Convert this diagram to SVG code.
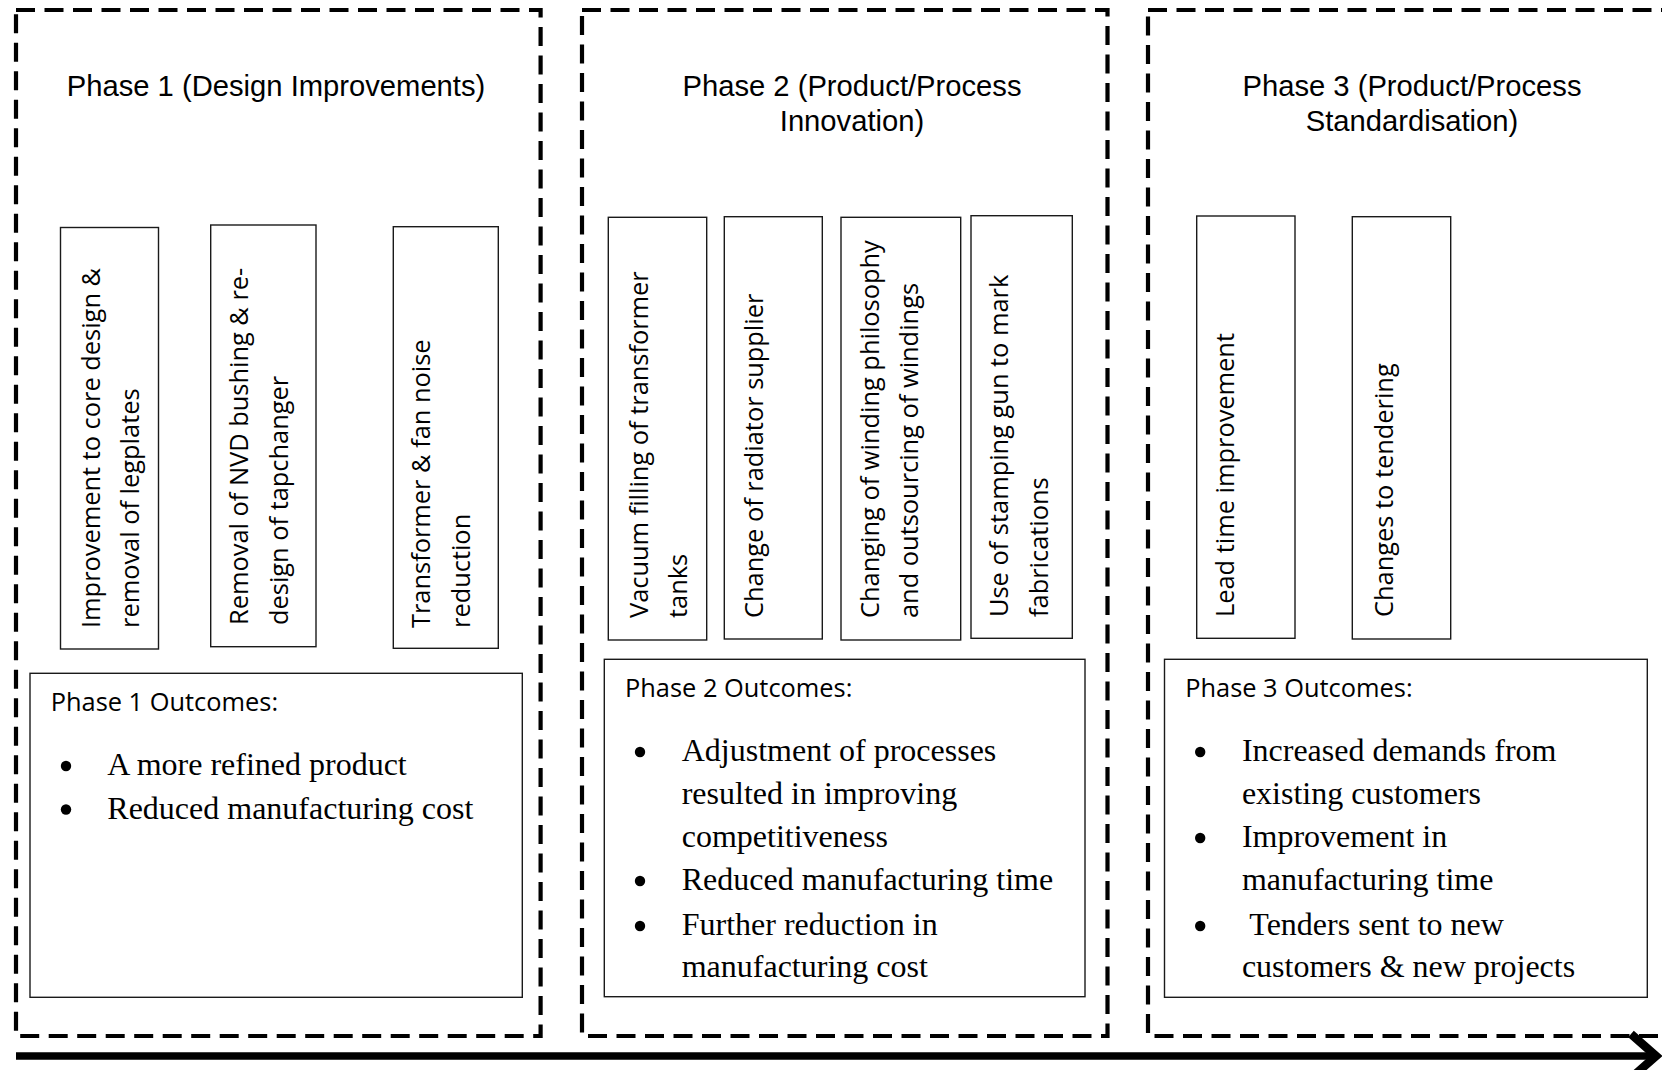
<svg xmlns="http://www.w3.org/2000/svg" width="1662" height="1070" viewBox="0 0 1662 1070">
  <style>
    .frame { fill: none; stroke: #000; stroke-width: 4.2; stroke-dasharray: 19 9.5; }
    .box { fill: #fff; stroke: #1a1a1a; stroke-width: 1.4; }
    .title { font-family: "Liberation Sans", Arial, sans-serif; font-size: 29.2px; fill: #000; text-anchor: middle; }
    .vt { font-family: "Open Sans", "Noto Sans", sans-serif; font-size: 25.4px; fill: #000; }
    .oh { font-family: "Open Sans", "Noto Sans", sans-serif; font-size: 25.4px; fill: #000; }
    .ot { font-family: "Liberation Serif", "Times New Roman", serif; font-size: 32px; fill: #000; }
    .dot { fill: #000; }
    .timeline { fill: none; stroke: #000; stroke-width: 7.5; }
  </style>
  <defs>
    <marker id="openHead" markerUnits="userSpaceOnUse" viewBox="0 0 44 56" markerWidth="44" markerHeight="56" refX="31" refY="28" orient="auto" overflow="visible">
      <path d="M6,6 L31,28 L6,50" fill="none" stroke="#000" stroke-width="8.5" stroke-linejoin="miter"/>
    </marker>
  </defs>

  <rect x="0" y="0" width="1662" height="1070" fill="#fff"/>

  <!-- phase containers -->
  <g id="phase1">
    <rect class="frame" x="16" y="10" width="524.6" height="1026"/>
    <text class="title" x="276" y="96">Phase 1 (Design Improvements)</text>
  </g>
  <g id="phase2">
    <rect class="frame" x="582" y="10" width="525.5" height="1026"/>
    <text class="title" x="852" y="96">Phase 2 (Product/Process</text>
    <text class="title" x="852" y="131">Innovation)</text>
  </g>
  <g id="phase3">
    <rect class="frame" x="1148" y="10" width="540" height="1026"/>
    <text class="title" x="1412" y="96">Phase 3 (Product/Process</text>
    <text class="title" x="1412" y="131">Standardisation)</text>
  </g>

  <!-- phase 1 activities -->
  <g id="core-design">
    <rect class="box" x="60.5" y="227.5" width="98" height="421.5"/>
    <text class="vt" transform="translate(100 628) rotate(-90)">Improvement to core design &amp;</text>
    <text class="vt" transform="translate(139 628) rotate(-90)">removal of legplates</text>
  </g>
  <g id="nvd-bushing">
    <rect class="box" x="210.7" y="225" width="105.3" height="421.7"/>
    <text class="vt" transform="translate(248 625) rotate(-90)">Removal of NVD bushing &amp; re-</text>
    <text class="vt" transform="translate(288 625) rotate(-90)">design of tapchanger</text>
  </g>
  <g id="noise-reduction">
    <rect class="box" x="393.3" y="226.7" width="105" height="421.6"/>
    <text class="vt" transform="translate(430 628) rotate(-90)">Transformer &amp; fan noise</text>
    <text class="vt" transform="translate(470 628) rotate(-90)">reduction</text>
  </g>

  <!-- phase 2 activities -->
  <g id="vacuum-filling">
    <rect class="box" x="608.3" y="217.3" width="98.4" height="422.7"/>
    <text class="vt" transform="translate(648 618) rotate(-90)">Vacuum filling of transformer</text>
    <text class="vt" transform="translate(687 618) rotate(-90)">tanks</text>
  </g>
  <g id="radiator-supplier">
    <rect class="box" x="724.3" y="216.7" width="98" height="422.3"/>
    <text class="vt" transform="translate(763 618) rotate(-90)">Change of radiator supplier</text>
  </g>
  <g id="winding-philosophy">
    <rect class="box" x="841" y="217.3" width="119.7" height="422.7"/>
    <text class="vt" transform="translate(879 618) rotate(-90)">Changing of winding philosophy</text>
    <text class="vt" transform="translate(918 618) rotate(-90)">and outsourcing of windings</text>
  </g>
  <g id="stamping-gun">
    <rect class="box" x="971" y="215.7" width="101.3" height="422.6"/>
    <text class="vt" transform="translate(1008 617) rotate(-90)">Use of stamping gun to mark</text>
    <text class="vt" transform="translate(1048 617) rotate(-90)">fabrications</text>
  </g>

  <!-- phase 3 activities -->
  <g id="lead-time">
    <rect class="box" x="1196.7" y="216" width="98.3" height="422.3"/>
    <text class="vt" transform="translate(1234 617) rotate(-90)">Lead time improvement</text>
  </g>
  <g id="tendering">
    <rect class="box" x="1352.3" y="216.7" width="98.4" height="422.3"/>
    <text class="vt" transform="translate(1393 617) rotate(-90)">Changes to tendering</text>
  </g>

  <!-- outcomes -->
  <g id="outcomes1">
    <rect class="box" x="30" y="673.3" width="492.3" height="324"/>
    <text class="oh" x="50.7" y="710.7">Phase 1 Outcomes:</text>
    <circle class="dot" cx="66" cy="766" r="5.2"/>
    <text class="ot" x="107.3" y="775">A more refined product</text>
    <circle class="dot" cx="66" cy="809.5" r="5.2"/>
    <text class="ot" x="107.3" y="818.5">Reduced manufacturing cost</text>
  </g>
  <g id="outcomes2">
    <rect class="box" x="604.3" y="659.3" width="480.7" height="337.4"/>
    <text class="oh" x="625" y="696.7">Phase 2 Outcomes:</text>
    <circle class="dot" cx="640" cy="752" r="5.2"/>
    <text class="ot" x="681.7" y="761">Adjustment of processes</text>
    <text class="ot" x="681.7" y="803.5">resulted in improving</text>
    <text class="ot" x="681.7" y="847">competitiveness</text>
    <circle class="dot" cx="640" cy="881" r="5.2"/>
    <text class="ot" x="681.7" y="890">Reduced manufacturing time</text>
    <circle class="dot" cx="640" cy="926" r="5.2"/>
    <text class="ot" x="681.7" y="935">Further reduction in</text>
    <text class="ot" x="681.7" y="977">manufacturing cost</text>
  </g>
  <g id="outcomes3">
    <rect class="box" x="1164.5" y="659.3" width="482.8" height="338"/>
    <text class="oh" x="1185.2" y="696.7">Phase 3 Outcomes:</text>
    <circle class="dot" cx="1200.2" cy="752" r="5.2"/>
    <text class="ot" x="1241.9" y="761">Increased demands from</text>
    <text class="ot" x="1241.9" y="803.5">existing customers</text>
    <circle class="dot" cx="1200.2" cy="838" r="5.2"/>
    <text class="ot" x="1241.9" y="847">Improvement in</text>
    <text class="ot" x="1241.9" y="890">manufacturing time</text>
    <circle class="dot" cx="1200.2" cy="926" r="5.2"/>
    <text class="ot" x="1241.9" y="935" xml:space="preserve"> Tenders sent to new</text>
    <text class="ot" x="1241.9" y="977">customers &amp; new projects</text>
  </g>

  <!-- timeline arrow along the bottom -->
  <g id="connectors">
    <line class="timeline" x1="16" y1="1056" x2="1656" y2="1056" marker-end="url(#openHead)"/>
  </g>
</svg>
